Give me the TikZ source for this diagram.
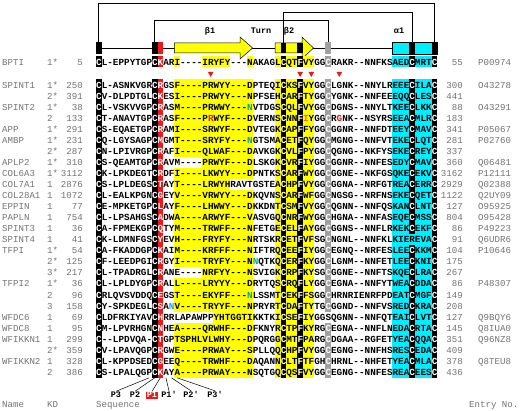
\documentclass[tikz,border=0pt]{standalone}
\usepackage{fontspec}
\newfontfamily\monofam{Liberation Mono}
\definecolor{seqyellow}{RGB}{255,255,0}
\definecolor{seqcyan}{RGB}{0,238,255}
\definecolor{seqred}{RGB}{235,25,25}
\definecolor{seqgrey}{RGB}{160,160,160}
\definecolor{labgrey}{RGB}{115,115,115}
\definecolor{glyco}{RGB}{0,165,165}
\definecolor{glycob}{RGB}{40,150,255}
\definecolor{seqorange}{RGB}{240,110,0}
\newcommand\seqfont{\monofam\bfseries\fontsize{9.32}{11}\selectfont}
\newcommand\labfont{\monofam\fontsize{9.1}{11}\selectfont}
\newcommand\hdrfont{\monofam\bfseries\fontsize{8.5}{10}\selectfont}
\newcount\ccol
\newcount\crow
\def\colorize#1{\ccol=0 \colparse#1\relax}
\def\colparse#1{\ifx#1\relax\else\colchar{#1}\advance\ccol by 1 \expandafter\colparse\fi}
\def\colchar#1{%
  \def\tc{black}%
  \ifnum\ccol=0 \def\tc{white}\fi
  \ifnum\ccol=10 \def\tc{white}\fi
  \ifnum\ccol=11 \def\tc{white}\fi
  \ifnum\ccol=33 \def\tc{white}\fi
  \ifnum\ccol=36 \def\tc{white}\fi
  \ifnum\ccol=41 \def\tc{white}\fi
  \ifnum\ccol=56 \def\tc{white}\fi
  \ifnum\ccol=60 \def\tc{white}\fi
  \ifcsname ex@\the\crow @\the\ccol\endcsname\edef\tc{\csname ex@\the\crow @\the\ccol\endcsname}\fi
  \textcolor{\tc}{#1}}
\def\setex#1#2#3{\expandafter\def\csname ex@#1@#2\endcsname{#3}}
\setex{2}{27}{glyco}
\setex{5}{27}{glyco}
\setex{16}{28}{glyco}
\setex{19}{27}{glyco}
\setex{20}{13}{glycob}
\setex{3}{20}{seqred}
\setex{3}{37}{seqorange}
\setex{3}{43}{seqred}
\setex{14}{56}{black}
\setex{21}{41}{black}
% color, row1, row2, col1, col2
\newcommand\bgcells[5]{\fill[#1] ({96+5.593*#4},{79.475+11.05*#2}) rectangle ({96+5.593*(#5+1)},{79.475+11.05*(#3+1)});}
\newcommand\bgbpti[3]{\fill[#1] ({96+5.593*#2},56.5) rectangle ({96+5.593*(#3+1)},67.5);}
% id, name, kd, start, seq, end, entry
\newcommand\seqrow[7]{%
  \global\crow=#1\relax
  \ifnum#1<0 \def\ybase{62}\else\pgfmathsetmacro\ybase{85+11.05*#1}\fi
  \pgfmathsetmacro\ry{\ybase+3.1}%
  \if\relax\detokenize{#2}\relax\else\node[lab] (nm#1) at (2,\ry) {#2};\fi
  \node[lab] (kd#1) at (47,\ry) {#3};
  \node[labr] (st#1) at (83,\ry) {#4};
  \node[seqtext] (sq#1) at (96,\ry) {\colorize{#5}};
  \node[labr] (en#1) at (463,\ry) {#6};
  \if\relax\detokenize{#7}\relax\else\node[lab] (ac#1) at (478,\ry) {#7};\fi
}
\begin{document}
\begin{tikzpicture}[x=1pt,y=-1pt,
  seqtext/.style={inner sep=0pt, anchor=base west, font=\seqfont},
  lab/.style={inner sep=0pt, anchor=base west, font=\labfont, text=labgrey},
  labr/.style={inner sep=0pt, anchor=base east, font=\labfont, text=labgrey},
  hbox/.style={minimum width=5.593pt, minimum height=12pt, inner sep=0pt, outer sep=0pt},
  hlab/.style={inner sep=0pt, anchor=base, font=\hdrfont},
  plab/.style={inner sep=0.8pt, anchor=base, font=\hdrfont},
  bond/.style={line width=0.9pt, black},
  strand/.style={draw=black, line width=0.5pt, fill=seqyellow},
]
\useasboundingbox (0,0) rectangle (520,411);
\fill[white] (0,0) rectangle (520,411);
% ---------- header ----------
\coordinate (top1) at (0,3);
\coordinate (top2) at (0,12);
\coordinate (top3) at (0,20);
\draw[line width=0.8pt] ({96+5.593*0.5},48) -- ({96+5.593*60.5},48);
\draw[strand] (174.3,43) -- (240,43) -- (240,37) -- (252.6,48) -- (240,59) -- (240,53) -- (174.3,53) -- cycle;
\draw[strand] (275,43) -- (302,43) -- (302,37) -- (313.5,48) -- (302,59) -- (302,53) -- (275,53) -- cycle;
\node[hbox, fill=black] (hc0) at ({96+5.593*0.5},48) {};
\node[hbox, fill=black] (hc10) at ({96+5.593*10.5},48) {};
\node[hbox, fill=seqred] (hk11) at ({96+5.593*11.5},48) {};
\node[hbox, fill=black, minimum height=10pt] (hc33) at ({96+5.593*33.5},48) {};
\node[hbox, fill=black, minimum height=10pt] (hf36) at ({96+5.593*36.5},48) {};
\node[hbox, fill=seqgrey] (hc41) at ({96+5.593*41.5},48) {};
\node[draw=black, line width=0.4pt, fill=seqcyan, minimum width={8*5.593pt}, minimum height=12pt, inner sep=0pt] (hal) at ({96+5.593*57},48) {};
\node[hbox, fill=black] (hc56) at ({96+5.593*56.5},48) {};
\node[hbox, fill=black] (hc60) at ({96+5.593*60.5},48) {};
\draw[bond] (hc0.north) -- (hc0.north |- top1) -| (hc60.north);
\draw[bond] (hc33.north) -- (hc33.north |- top2) -| (hc56.north);
\draw[bond] (hc10.north) -- (hc10.north |- top3) -| (hc41.north);
\node[hlab] (lb1) at (210,34) {β1};
\node[hlab] (lturn) at (261,34) {Turn};
\node[hlab] (lb2) at (289,34) {β2};
\node[hlab] (la1) at (399,34) {α1};
% ---------- BPTI backgrounds ----------
\bgbpti{seqyellow}{14}{14}
\bgbpti{seqyellow}{19}{23}
\bgbpti{seqyellow}{27}{27}
\bgbpti{seqyellow}{32}{38}
\bgbpti{seqcyan}{53}{60}
\bgbpti{black}{0}{0}
\bgbpti{black}{10}{10}
\bgbpti{seqred}{11}{11}
\bgbpti{black}{33}{33}
\bgbpti{black}{36}{36}
\bgbpti{seqgrey}{41}{41}
\bgbpti{black}{56}{56}
\bgbpti{black}{60}{60}
% ---------- main backgrounds ----------
\bgcells{seqyellow}{0}{26}{14}{27}
\bgcells{seqyellow}{0}{26}{32}{38}
\bgcells{white}{7}{7}{14}{18}
\bgcells{white}{9}{9}{24}{27}
\bgcells{white}{17}{17}{14}{18}
\bgcells{white}{21}{21}{14}{20}
\bgcells{seqcyan}{0}{26}{53}{60}
\bgcells{black}{0}{26}{0}{0}
\bgcells{black}{0}{26}{10}{10}
\bgcells{seqred}{0}{26}{11}{11}
\bgcells{black}{0}{26}{33}{33}
\bgcells{black}{0}{26}{36}{36}
\bgcells{seqgrey}{0}{20}{41}{41}
\bgcells{seqgrey}{22}{26}{41}{41}
\bgcells{black}{0}{13}{56}{56}
\bgcells{black}{15}{26}{56}{56}
\bgcells{black}{0}{26}{60}{60}
% ---------- markers ----------
\foreach \c in {20,36,38,43}{
  \fill[seqred] ({96+5.593*(\c+0.5)-2.8},72) -- ({96+5.593*(\c+0.5)+2.8},72) -- ({96+5.593*(\c+0.5)},77) -- cycle;
}
% ---------- rows ----------
\seqrow{-1}{BPTI}{1*}{5}{CL-EPPYTGPCKARI----IRYFY---NAKAGLCQTFVYGGCRAKR--NNFKSAEDCMRTC}{55}{P00974}
\seqrow{0}{SPINT1}{1*}{250}{CL-ASNKVGRCRGSF----PRWYY---DPTEQICKSFVYGGCLGNK--NNYLREEECILAC}{300}{O43278}
\seqrow{1}{}{2*}{391}{CV-DLPDTGLCKESI----PRWYY---NPFSEHCARFTYGGCYGNK--NNFEEEQQCLESC}{441}{}
\seqrow{2}{SPINT2}{1*}{38}{CL-VSKVVGPCRASM----PRWWY---NVTDGSCQLFVYGGCDGNS--NNYLTKEECLKKC}{88}{O43291}
\seqrow{3}{}{2}{133}{CT-ANAVTGPCRASF----PRWYF---DVERNSCNNFIYGGCRGNK--NSYRSEEACMLRC}{183}{}
\seqrow{4}{APP}{1*}{291}{CS-EQAETGPCRAMI----SRWYF---DVTEGKCAPFFYGGCGGNR--NNFDTEEYCMAVC}{341}{P05067}
\seqrow{5}{AMBP}{1*}{231}{CQ-LGYSAGPCMGMT----SRYFY---NGTSMACETFQYGGCMGNG--NNFVTEKECLQTC}{281}{P02760}
\seqrow{6}{}{2*}{287}{CN-LPIVRGPCRAFI----QLWAF---DAVKGKCVLFPYGGCQGNG--NKFYSEKECREYC}{337}{}
\seqrow{7}{APLP2}{1*}{310}{CS-QEAMTGPCRAVM----PRWYF---DLSKGKCVRFIYGGCGGNR--NNFESEDYCMAVC}{360}{Q06481}
\seqrow{8}{COL6A3}{1*}{3112}{CK-LPKDEGTCRDFI----LKWYY---DPNTKSCARFWYGGCGGNE--NKFGSQKECEKVC}{3162}{P12111}
\seqrow{9}{COL7A1}{1}{2876}{CS-LPLDEGSCTAYT----LRWYHRAVTGSTEACHPFVYGGCGGNA--NRFGTREACERRC}{2929}{Q02388}
\seqrow{10}{COL28A1}{1}{1072}{CL-EALKPGNCGEYV----VRWYY---DKQVNSCARFWFGGCNGSG--NRFNSEKECQETC}{1122}{Q2UY09}
\seqrow{11}{EPPIN}{1}{77}{CE-MPKETGPCLAYF----LHWWY---DKKDNTCSMFVYGGCQGNN--NNFQSKANCLNTC}{127}{O95925}
\seqrow{12}{PAPLN}{1}{754}{CL-LPSAHGSCADWA----ARWYF---VASVGQCNRFWYGGCHGNA--NNFASEQECMSSC}{804}{O95428}
\seqrow{13}{SPINT3}{1}{36}{CA-FPMEKGPCQTYM----TRWFF---NFETGECELFAYGGCGGNS--NNFLRKEKCEKFC}{86}{P49223}
\seqrow{14}{SPINT4}{1}{41}{CK-LDMNFGSCYEVH----FRYFY---NRTSKRCETFVFSGCNGNL--NNFKLKIEREVAC}{91}{Q6UDR6}
\seqrow{15}{TFPI}{1*}{54}{CA-FKADDGPCKAIM----KRFFF---NIFTRQCEEFIYGGCEGNQ--NRFESLEECKKMC}{104}{P10646}
\seqrow{16}{}{2*}{125}{CF-LEEDPGICRGYI----TRYFY---NNQTKQCERFKYGGCLGNM--NNFETLEECKNIC}{175}{}
\seqrow{17}{}{3*}{217}{CL-TPADRGLCRANE----NRFYY---NSVIGKCRPFKYSGCGGNE--NNFTSKQECLRAC}{267}{}
\seqrow{18}{TFPI2}{1*}{36}{CL-LPLDYGPCRALL----LRYYY---DRYTQSCRQFLYGGCEGNA--NNFYTWEACDDAC}{86}{P48307}
\seqrow{19}{}{2}{96}{CRLQVSVDDQCEGST----EKYFF---NLSSMTCEKFFSGGCHRNRIENRFPDEATCMGFC}{149}{}
\seqrow{20}{}{3}{158}{CY-SPKDEGLCSANV----TRYYF---NPRYRTCDAFTYTGCGGND--NNFVSREDCKRAC}{208}{}
\seqrow{21}{WFDC6}{1}{69}{CLDFRKIYAVCHRRLAPAWPPYHTGGTIKKTKICSEFIYGGSQGNN--NNFQTEAICLVTC}{127}{Q9BQY6}
\seqrow{22}{WFDC8}{1}{95}{CM-LPVRHGNCNHEA----QRWHF---DFKNYRCTPFKYRGCEGNA--NNFLNEDACRTAC}{145}{Q8IUA0}
\seqrow{23}{WFIKKN1}{1}{299}{C--LPDVQA-CTGPTSPHLVLWHY---DPQRGGCMTFPARGCDGAA--RGFETYEACQQAC}{351}{Q96NZ8}
\seqrow{24}{}{2*}{359}{CV-LPAVQGPCRGWE----PRWAY---SPLLQQCHPFVYGGCEGNG--NNFHSRESCEDAC}{409}{}
\seqrow{25}{WFIKKN2}{1}{328}{CL-KPPDSEDCGEEQ----TRWHF---DAQANNCLTFTFGHCHRNL--NHFETYEACMLAC}{378}{Q8TEU8}
\seqrow{26}{}{2}{386}{CS-LPALQGPCKAYA----PRWAY---NSQTGQCQSFVYGGCEGNG--NNFESREACEESC}{436}{}
% ---------- P labels ----------
\foreach \c in {9,10,11,12,13,14}{
  \coordinate (cb\c) at ({96+5.593*(\c+0.5)},377.8);
}
\node[plab] (p3) at (116,398) {P3};
\node[plab] (p2) at (135,398) {P2};
\node[plab, fill=seqred, text=white] (p1) at (152,398) {P1};
\node[plab] (p1p) at (169,398) {P1'};
\node[plab] (p2p) at (191,398) {P2'};
\node[plab] (p3p) at (215,398) {P3'};
\draw[line width=0.5pt] (p3.north) -- (cb9);
\draw[line width=0.5pt] (p2.north) -- (cb10);
\draw[line width=0.5pt] (p1.north) -- (cb11);
\draw[line width=0.5pt] (p1p.north) -- (cb12);
\draw[line width=0.5pt] (p2p.north) -- (cb13);
\draw[line width=0.5pt] (p3p.north) -- (cb14);
% ---------- footer ----------
\node[lab] (fname) at (2,408) {Name};
\node[lab] (fkd) at (47,408) {KD};
\node[lab] (fseq) at (96,408) {Sequence};
\node[lab] (fent) at (469,408) {Entry No.};
\end{tikzpicture}
\end{document}
